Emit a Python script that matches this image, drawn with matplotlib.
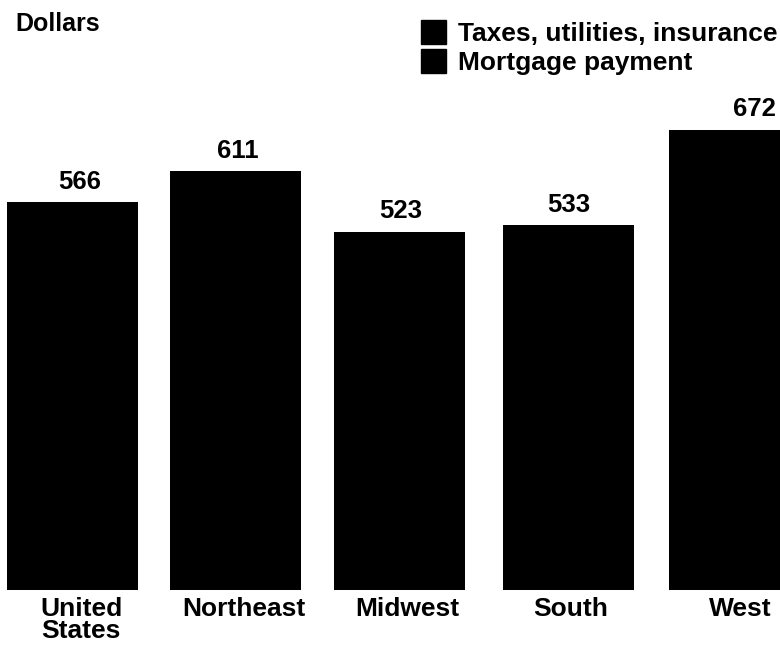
import matplotlib.pyplot as plt
from matplotlib.patches import Patch

# Данные
regions = ["United\nStates", "Northeast", "Midwest", "South", "West"]
totals = [566, 611, 523, 533, 672]
legend_labels = ["Taxes, utilities, insurance", "Mortgage payment"]

plt.rcParams['font.family'] = ['Liberation Sans', 'DejaVu Sans']

fig = plt.figure(figsize=(7.8, 6.52), dpi=100)
ax = fig.add_axes([0, 0.095, 1, 0.905])

pos = [72.5, 235.5, 399.5, 568, 734]
ax.bar(pos, totals, width=131, color='black')

# сдвиги подписей относительно центров столбцов
value_dx = [7.5, 2.5, 1.5, 1, 20]
name_dx = [8.5, 8.5, 7.5, 3, 6]
for x, dx, v in zip(pos, value_dx, totals):
    ax.text(x + dx, v + 12, str(v), ha='center', va='bottom',
            fontsize=18.5, fontweight='bold')
for x, dx, name in zip(pos, name_dx, regions):
    ax.text(x + dx, -10, name, ha='center', va='top', fontsize=19,
            fontweight='bold', linespacing=0.9)

ax.set_xlim(0, 780)
ax.set_ylim(0, 861)
ax.axis('off')

fig.text(0.02, 0.982, "Dollars", ha='left', va='top', fontsize=18,
         fontweight='bold')

handles = [Patch(color='black'), Patch(color='black')]
fig.legend(handles, legend_labels, loc='upper left',
           bbox_to_anchor=(0.516, 0.998), frameon=False,
           prop={'weight': 'bold', 'size': 19},
           handlelength=0.95, handleheight=1.05, labelspacing=0.1,
           handletextpad=0.45, borderaxespad=0.3)

fig.savefig('out.png', dpi=100)
